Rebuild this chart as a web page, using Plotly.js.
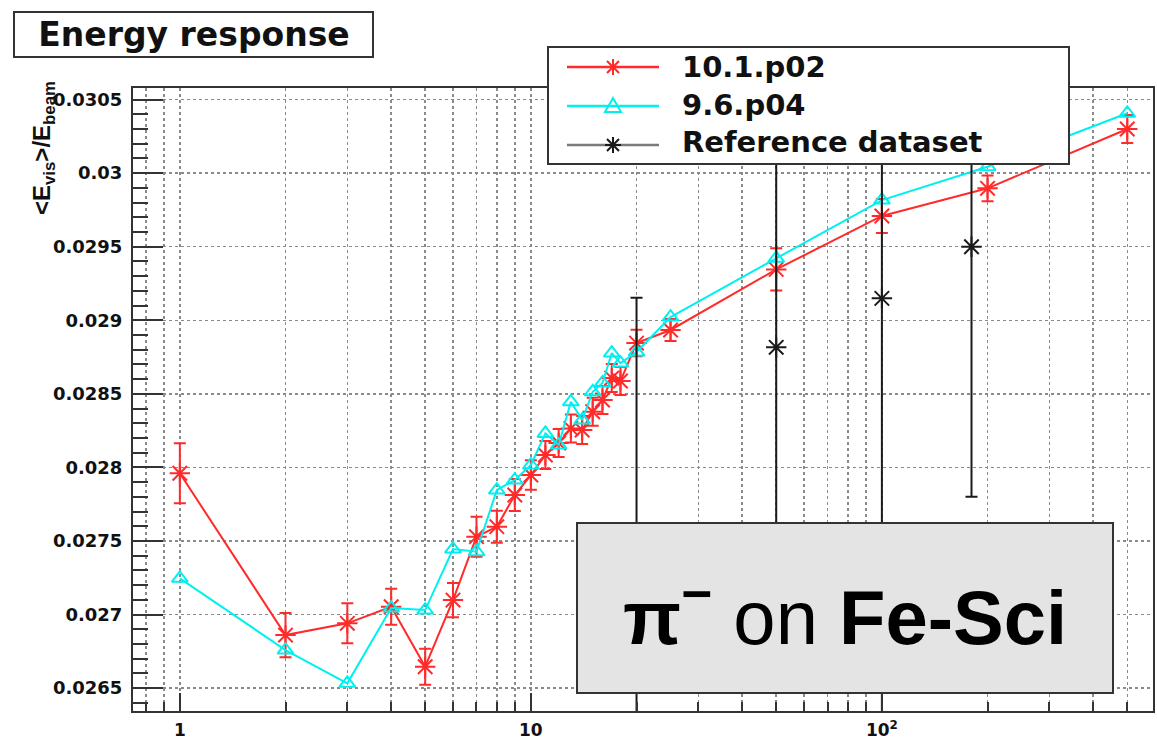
<!DOCTYPE html>
<html>
<head>
<meta charset="utf-8">
<script src="https://cdn.plot.ly/plotly-3.0.1.min.js"></script>
<style>
  html, body { margin: 0; padding: 0; background: #ffffff; }
  #chart { width: 1157px; height: 747px; }
</style>
</head>
<body>
<div id="chart"></div>
<script>
// Beam energies (GeV) of the simulated points
const energies = [1, 2, 3, 4, 5, 6, 7, 8, 9, 10, 11, 12, 13, 14, 15, 16, 17, 18, 20, 25, 50, 100, 200, 500];

// <E_vis>/E_beam for Geant4 10.1.p02
const resp101 = [0.027960, 0.026860, 0.026940, 0.027053, 0.026645, 0.027098, 0.027529, 0.027597,
                 0.027812, 0.027948, 0.028084, 0.028166, 0.028265, 0.028254, 0.028378, 0.028458,
                 0.028607, 0.028587, 0.028845, 0.028934, 0.029346, 0.029709, 0.029897, 0.030300];
const err101  = [0.000204, 0.000150, 0.000136, 0.000122, 0.000122, 0.000116, 0.000136, 0.000109,
                 0.000109, 0.000100, 0.000095, 0.000095, 0.000095, 0.000095, 0.000095, 0.000095,
                 0.000095, 0.000095, 0.000090, 0.000075, 0.000143, 0.000116, 0.000088, 0.000095];

// <E_vis>/E_beam for Geant4 9.6.p04
const resp96  = [0.027246, 0.026758, 0.026532, 0.027044, 0.027030, 0.027445, 0.027427, 0.027846,
                 0.027914, 0.028016, 0.028231, 0.028152, 0.028446, 0.028322, 0.028514, 0.028574,
                 0.028777, 0.028709, 0.028784, 0.029022, 0.029421, 0.029817, 0.030044, 0.030407];

// Reference (test-beam) dataset
const refEnergies = [20, 50, 100, 180];
const refResp     = [0.027540, 0.028816, 0.029149, 0.029500];
const refErr      = [0.001613, 0.001500, 0.002900, 0.001700];

// Axis ticks
const yTickVals = [0.0265, 0.027, 0.0275, 0.028, 0.0285, 0.029, 0.0295, 0.030, 0.0305];
const yTickText = ["0.0265", "0.027", "0.0275", "0.028", "0.0285", "0.029", "0.0295", "0.03", "0.0305"];
const xTickVals = [1, 10, 100];
const xTickText = ["1", "10", "10<sup>2</sup>"];
const xMinorVals = [0.8, 0.9, 2, 3, 4, 5, 6, 7, 8, 9, 20, 30, 40, 50, 60, 70, 80, 90, 200, 300, 400, 500];

// Legend / label text
const legendNames = ["10.1.p02", "9.6.p04", "Reference dataset"];
const titleText = "Energy response";
const yTitleText = "&lt;E<sub>vis</sub>&gt;/E<sub>beam</sub>";
const boxText = "<b>π</b><sup><b>−</b></sup> on <b>Fe-Sci</b>";

// Page geometry (pixels)
const W = 1157, H = 747;
const M = { l: 133, r: 4, t: 88, b: 36 };
const PW = W - M.l - M.r, PH = H - M.t - M.b;
const px = x => (x - M.l) / PW;          // pixel -> paper x
const py = y => (H - M.b - y) / PH;      // pixel -> paper y

const RED = '#ff2a2a', CYAN = '#00f0f0', DARK = '#1a1a1a', FRAME = '#333333';

const traces = [
  {
    x: energies, y: resp101, type: 'scatter', mode: 'lines+markers', name: legendNames[0],
    line: { color: RED, width: 2 },
    marker: { symbol: 'asterisk-open', size: 17, color: RED, line: { color: RED, width: 2 } },
    error_y: { type: 'data', array: err101, visible: true, color: RED, thickness: 2, width: 6 },
    showlegend: false, hoverinfo: 'skip'
  },
  {
    x: energies, y: resp96, type: 'scatter', mode: 'lines+markers', name: legendNames[1],
    line: { color: CYAN, width: 2 },
    marker: { symbol: 'triangle-up-open', size: 14, color: CYAN, line: { color: CYAN, width: 2 } },
    showlegend: false, hoverinfo: 'skip'
  },
  {
    x: refEnergies, y: refResp, type: 'scatter', mode: 'markers', name: legendNames[2],
    marker: { symbol: 'asterisk-open', size: 17, color: DARK, line: { color: DARK, width: 2 } },
    error_y: { type: 'data', array: refErr, visible: true, color: DARK, thickness: 2, width: 6 },
    showlegend: false, hoverinfo: 'skip'
  }
];

const tickFont = { family: 'DejaVu Sans', size: 18, color: '#111', weight: 'bold' };

// Legend rows: sample line + marker glyph + label
const legendRows = [
  { y: 67,  color: RED,       mark: 'star', markColor: RED },
  { y: 106, color: CYAN,      mark: 'tri',  markColor: CYAN },
  { y: 145, color: '#7a7a7a', mark: 'star', markColor: DARK }
];
const legendTextY = [67.5, 105.5, 142];

const starPath = 'M-8,0L8,0M0,-8L0,8M-6,-6L6,6M-6,6L6,-6';
const triPath  = 'M-8,-6L8,-6L0,8Z';

const shapes = [
  // title box
  { type: 'rect', xref: 'paper', yref: 'paper', x0: px(14), x1: px(373), y0: py(57), y1: py(12),
    fillcolor: '#ffffff', line: { color: FRAME, width: 2 }, layer: 'above' },
  // legend box
  { type: 'rect', xref: 'paper', yref: 'paper', x0: px(548), x1: px(1069), y0: py(164), y1: py(47),
    fillcolor: '#ffffff', line: { color: FRAME, width: 2 }, layer: 'above' },
  // label box
  { type: 'rect', xref: 'paper', yref: 'paper', x0: px(577), x1: px(1113), y0: py(693), y1: py(523),
    fillcolor: '#e4e4e4', line: { color: FRAME, width: 2 }, layer: 'above' }
];
legendRows.forEach(r => {
  shapes.push({ type: 'line', xref: 'paper', yref: 'paper', x0: px(567), x1: px(659), y0: py(r.y), y1: py(r.y),
                line: { color: r.color, width: 2.5 }, layer: 'above' });
  shapes.push({ type: 'path', xref: 'paper', yref: 'paper', xsizemode: 'pixel', ysizemode: 'pixel',
                xanchor: px(613), yanchor: py(r.y), path: r.mark === 'star' ? starPath : triPath,
                line: { color: r.markColor, width: 2 }, fillcolor: 'rgba(0,0,0,0)', layer: 'above' });
});

const annotations = legendNames.map((t, i) => ({
  text: t, xref: 'paper', yref: 'paper', x: px(680), y: py(legendTextY[i]),
  xanchor: 'left', yanchor: 'middle', showarrow: false,
  font: { family: 'DejaVu Sans', size: 29, color: '#111', weight: 'bold' }
}));
annotations.push({
  text: boxText, xref: 'paper', yref: 'paper', x: px(845), y: py(612),
  xanchor: 'center', yanchor: 'middle', showarrow: false,
  font: { family: 'Liberation Sans', size: 76, color: '#000' }
});
annotations.push({
  text: yTitleText, xref: 'paper', yref: 'paper', x: px(44), y: py(148),
  xanchor: 'center', yanchor: 'middle', showarrow: false, textangle: -90,
  font: { family: 'Liberation Sans', size: 24, color: '#111', weight: 'bold' }
});

const layout = {
  width: W, height: H,
  margin: M,
  paper_bgcolor: '#ffffff', plot_bgcolor: '#ffffff',
  showlegend: false,
  title: {
    text: titleText, x: 194 / W, xanchor: 'center', y: 1 - 34 / H, yanchor: 'middle',
    xref: 'container', yref: 'container',
    font: { family: 'DejaVu Sans', size: 33, color: '#111', weight: 'bold' }
  },
  xaxis: {
    type: 'log', range: [Math.log10(0.7355), Math.log10(592)],
    tickmode: 'array', tickvals: xTickVals, ticktext: xTickText,
    ticks: 'inside', ticklen: 18, tickwidth: 2, tickcolor: FRAME,
    showline: true, linecolor: FRAME, linewidth: 2, mirror: true,
    showgrid: true, gridcolor: '#8a8a8a', griddash: 'dot', gridwidth: 1.5,
    minor: { tickmode: 'array', tickvals: xMinorVals, ticks: 'inside', ticklen: 9, tickwidth: 2,
             tickcolor: FRAME, showgrid: true, gridcolor: '#8a8a8a', griddash: 'dot', gridwidth: 1.5 },
    tickfont: { family: 'DejaVu Sans', size: 17, color: '#111', weight: 'bold' },
    ticklabelstandoff: 3, zeroline: false, fixedrange: true
  },
  yaxis: {
    range: [0.026344, 0.030579],
    tickmode: 'array', tickvals: yTickVals, ticktext: yTickText,
    ticks: 'inside', ticklen: 30, tickwidth: 2, tickcolor: FRAME,
    showline: true, linecolor: FRAME, linewidth: 2, mirror: true,
    showgrid: true, gridcolor: '#8a8a8a', griddash: 'dot', gridwidth: 1.5,
    minor: { tick0: 0.0265, dtick: 0.0001, ticks: 'inside', ticklen: 15, tickwidth: 2,
             tickcolor: FRAME, showgrid: false },
    tickfont: tickFont, ticklabelstandoff: 5, zeroline: false, fixedrange: true
  },
  shapes: shapes,
  annotations: annotations
};

Plotly.newPlot('chart', traces, layout, { staticPlot: true, displayModeBar: false });
</script>
</body>
</html>
